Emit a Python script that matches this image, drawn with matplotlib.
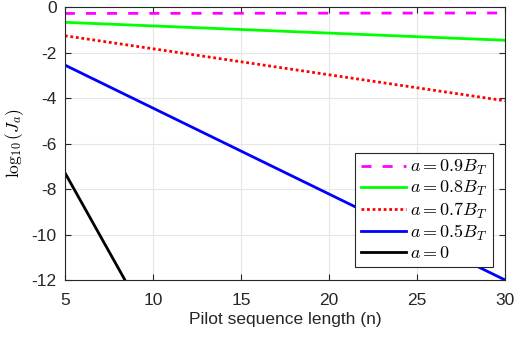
import matplotlib.pyplot as plt

plt.rcParams.update({
    "font.family": "sans-serif",
    "font.sans-serif": ["Liberation Sans", "DejaVu Sans"],
    "mathtext.fontset": "cm",
    "axes.unicode_minus": False,
    "font.size": 12,
})

# (straight lines, endpoints)
n_full = [5, 30]
j_09 = [-0.28, -0.26]
j_08 = [-0.67, -1.46]
j_07 = [-1.26, -4.12]
j_05 = [-2.55, -12.0]
n_zero = [5, 8.41]
j_00 = [-7.28, -12.0]

fig = plt.figure(figsize=(5.15, 3.37), dpi=100)
ax = fig.add_axes([0.126, 0.169, 0.855, 0.81])

ax.plot(n_full, j_09, color='#ff00ff', lw=2, ls=(0, (3.6, 4)), label=r'$a=0.9B_T$')
ax.plot(n_full, j_08, color='#00ff00', lw=2, label=r'$a=0.8B_T$')
ax.plot(n_full, j_07, color='#ff0000', lw=2, ls=(0, (1, 1)), label=r'$a=0.7B_T$')
ax.plot(n_full, j_05, color='#0000ff', lw=2, label=r'$a=0.5B_T$')
ax.plot(n_zero, j_00, color='black', lw=2, label=r'$a=0$')

ax.set_xlim(5, 30)
ax.set_ylim(-12, 0)
ax.set_xticks([5, 10, 15, 20, 25, 30])
ax.set_yticks([0, -2, -4, -6, -8, -10, -12])
ax.grid(True, color='#e6e6e6', lw=0.8)
ax.set_axisbelow(True)
ax.tick_params(direction='in', top=True, right=True, labelsize=12.5,
               colors='#262626', length=4, pad=6)
ax.tick_params(axis='x', pad=9)
for s in ax.spines.values():
    s.set_color('#262626')
    s.set_linewidth(0.8)

ax.set_xlabel('Pilot sequence length (n)', fontsize=12.5, color='#262626', labelpad=3)
ax.set_ylabel(r'$\log_{10}(J_a)$', fontsize=12.5, labelpad=4)

leg = ax.legend(loc='lower right', fontsize=13, frameon=True, fancybox=False,
                framealpha=1, edgecolor='#262626', handlelength=2.5,
                handletextpad=0.2, borderaxespad=0.7, labelspacing=0.12,
                borderpad=0.3)
leg.get_frame().set_linewidth(0.8)

fig.savefig('out.png', dpi=100)
